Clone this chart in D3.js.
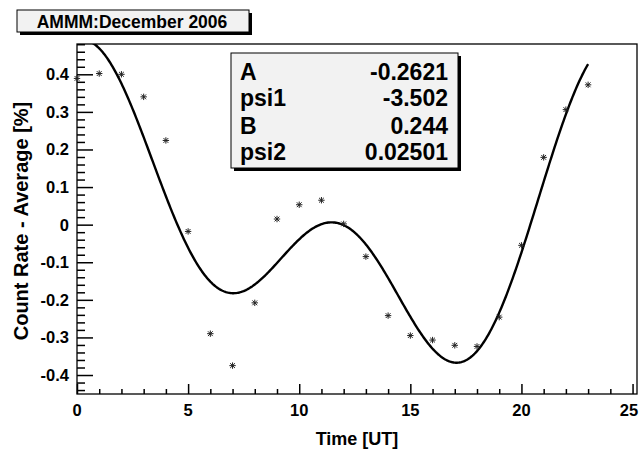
<!DOCTYPE html>
<html><head><meta charset="utf-8">
<script src="https://cdn.jsdelivr.net/npm/d3@7"></script>
<style>body{margin:0;background:#fff;} svg{display:block;font-family:"Liberation Sans",Arial,sans-serif;font-weight:bold;}</style>
</head><body>
<svg id="c" width="640" height="450"></svg>
<script>
// data
const hours = [0,1,2,3,4,5,6,7,8,9,10,11,12,13,14,15,16,17,18,19,20,21,22,23];
const values = [0.389,0.402,0.400,0.340,0.224,-0.018,-0.290,-0.375,-0.208,0.015,0.053,0.065,0.002,-0.085,-0.242,-0.295,-0.307,-0.321,-0.324,-0.246,-0.055,0.179,0.306,0.372];
const paramNames = ["A","psi1","B","psi2"];
const paramValues = ["-0.2621","-3.502","0.244","0.02501"];
const xTicks = [0,5,10,15,20,25];
const yTicks = [-0.4,-0.3,-0.2,-0.1,0,0.1,0.2,0.3,0.4];
const yTickLabels = ["-0.4","-0.3","-0.2","-0.1","0","0.1","0.2","0.3","0.4"];
const title = "AMMM:December 2006";
const xTitle = "Time [UT]";
const yTitle = "Count Rate - Average [%]";

const A = +paramValues[0], psi1 = +paramValues[1], B = +paramValues[2], psi2 = +paramValues[3];
const fit = t => A*Math.cos(2*Math.PI*t/24 + psi1) + B*Math.cos(4*Math.PI*t/24 + psi2);

const svg = d3.select("#c");
const L=77, R=637, T=44, Bt=394;
const x = d3.scaleLinear().domain([0,25.2]).range([L,R]);
const y = d3.scaleLinear().domain([-0.4505,0.4806]).range([Bt,T]);

svg.append("defs").append("clipPath").attr("id","clip").append("rect")
  .attr("x",L).attr("y",T).attr("width",R-L).attr("height",Bt-T);

// frame
svg.append("rect").attr("x",L).attr("y",T).attr("width",R-L).attr("height",Bt-T)
  .attr("fill","none").attr("stroke","#000").attr("stroke-width",1.3);

// axes via d3.axis, ticks pointing inward
const xMinor = d3.range(0,26,1).filter(d=>d<=25.2);
const gx = svg.append("g").attr("transform",`translate(0,${Bt})`)
  .call(d3.axisBottom(x).tickValues(xMinor).tickSize(0).tickFormat(""));
gx.select(".domain").remove();
gx.selectAll(".tick line").attr("y2",d=>-(d%5===0?10:5)).attr("stroke","#000").attr("stroke-width",1.5);

const yMinor = d3.range(-22,25,1).map(k=>k*0.02);
const gy = svg.append("g").attr("transform",`translate(${L},0)`)
  .call(d3.axisLeft(y).tickValues(yMinor).tickSize(0).tickFormat(""));
gy.select(".domain").remove();
gy.selectAll(".tick line").attr("x2",d=>(Math.round(d*100)%10===0)?16:8).attr("stroke","#000").attr("stroke-width",1.5);

svg.append("g").selectAll("text").data(xTicks).join("text")
  .attr("x",d=>Math.min(x(d),629)).attr("y",416).attr("text-anchor","middle")
  .attr("font-size",16.5).text(d=>d);
svg.append("text").attr("x",357).attr("y",445).attr("text-anchor","middle")
  .attr("font-size",18).text(xTitle);
svg.append("g").selectAll("text").data(yTicks).join("text")
  .attr("x",69).attr("y",d=>y(d)+6).attr("text-anchor","end")
  .attr("font-size",16.5).text((d,i)=>yTickLabels[i]);
svg.append("text").attr("transform","translate(28,221) rotate(-90)")
  .attr("text-anchor","middle").attr("font-size",20).text(yTitle);

// fit curve
const tt = d3.range(0,23.001,0.05);
svg.append("path").attr("clip-path","url(#clip)")
  .datum(tt)
  .attr("d",d3.line().x(t=>x(t)).y(t=>y(fit(t))))
  .attr("fill","none").attr("stroke","#000").attr("stroke-width",2.4);

// markers (asterisk)
const s=3.2, sd=2.4;
let mp = "";
hours.forEach((h,i)=>{
  const cx=x(h), cy=y(values[i]);
  mp += `M${cx-s},${cy}H${cx+s}M${cx},${cy-s}V${cy+s}M${cx-sd},${cy-sd}L${cx+sd},${cy+sd}M${cx-sd},${cy+sd}L${cx+sd},${cy-sd}`;
});
svg.append("path").attr("d",mp).attr("stroke","#222").attr("stroke-width",1).attr("fill","none");

// title box
svg.append("rect").attr("x",20).attr("y",13).attr("width",232).attr("height",22).attr("fill","#000");
svg.append("rect").attr("x",17).attr("y",10).attr("width",232).attr("height",22)
  .attr("fill","#f2f2f2").attr("stroke","#000").attr("stroke-width",1);
svg.append("text").attr("x",132).attr("y",27.5).attr("text-anchor","middle")
  .attr("font-size",17.5).text(title);

// stats box
svg.append("rect").attr("x",234).attr("y",56).attr("width",227).attr("height",115).attr("fill","#000");
svg.append("rect").attr("x",231).attr("y",53).attr("width",227).attr("height",115)
  .attr("fill","#f2f2f2").attr("stroke","#000").attr("stroke-width",1);
const rowsY=[80,106,134,160];
paramNames.forEach((n,i)=>{
  svg.append("text").attr("x",240).attr("y",rowsY[i]).attr("font-size",23).text(n);
  svg.append("text").attr("x",448).attr("y",rowsY[i]).attr("font-size",23).attr("text-anchor","end").text(paramValues[i]);
});
</script>
</body></html>
